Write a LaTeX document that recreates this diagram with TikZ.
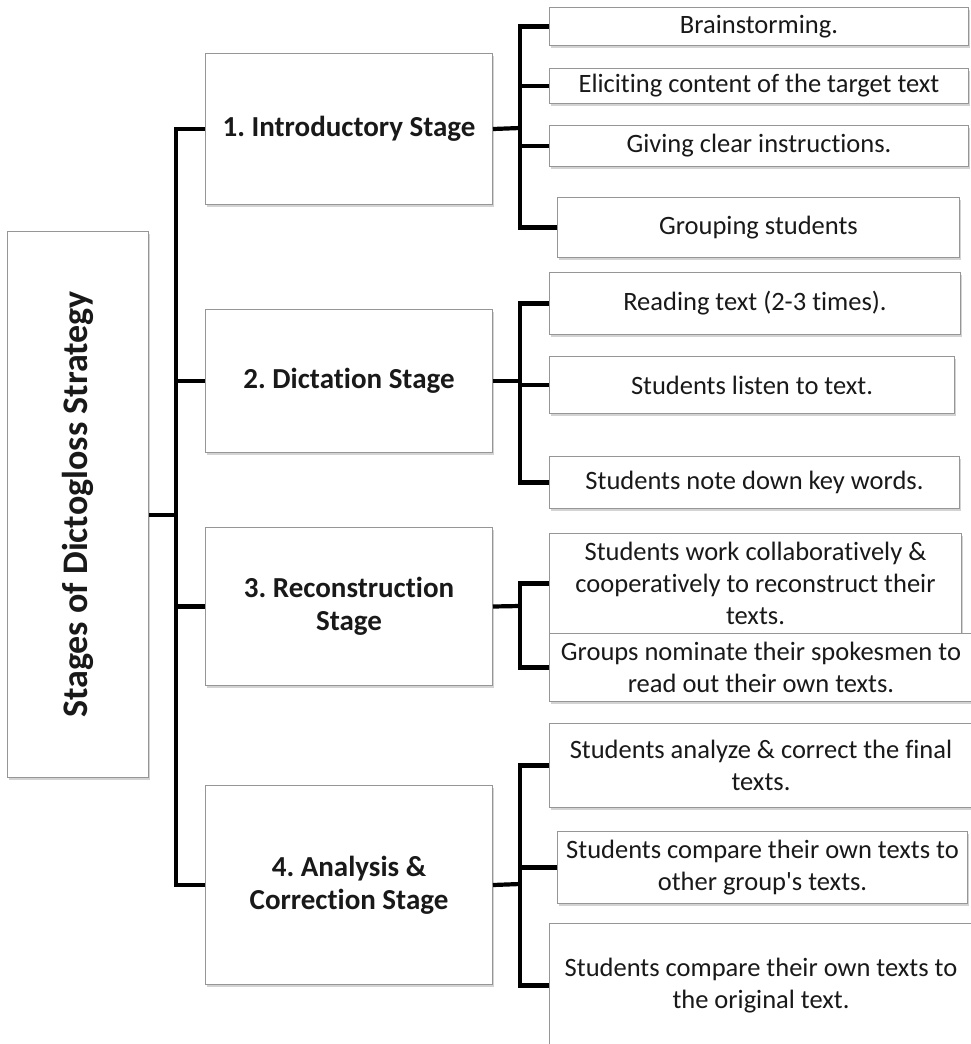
\documentclass[tikz,border=0pt]{standalone}
\usepackage{fontspec}
\setmainfont[Ligatures={CommonOff,TeXOff}]{Carlito}
\usepackage{tikz}
\usetikzlibrary{shadows, calc}
\definecolor{boxline}{RGB}{150, 150, 150}
\definecolor{textdark}{RGB}{25, 25, 25}
\frenchspacing

\begin{document}
\begin{tikzpicture}[
    x=1pt, y=-1pt,
    rootBox/.style={draw=boxline, fill=white, line width=1pt, anchor=north west, inner sep=0pt, text=textdark,
        font=\fontsize{36}{40}\selectfont\bfseries, drop shadow={shadow xshift=1.5pt, shadow yshift=-2pt, opacity=0.35}},
    stageBox/.style={draw=boxline, fill=white, line width=1pt, anchor=north west, inner sep=0pt, align=center, text=textdark,
        font=\fontsize{29}{33}\selectfont\bfseries, drop shadow={shadow xshift=1.5pt, shadow yshift=-2pt, opacity=0.35}},
    leafBox/.style={draw=boxline, fill=white, line width=1pt, anchor=north west, inner sep=0pt, align=center, text=textdark,
        font=\fontsize{26.5}{32}\selectfont, drop shadow={shadow xshift=1.5pt, shadow yshift=-2pt, opacity=0.35}},
    link/.style={draw=black, line width=4.2pt},
    spine/.style={link, line cap=rect}
]
\useasboundingbox (0,0) rectangle (970,1044);

% Root
\node[rootBox, minimum width=141, minimum height=546] (root) at (7,231) {\rotatebox{90}{Stages of Dictogloss Strategy}};

% Stages
\node[stageBox, minimum width=287, minimum height=151] (introStage) at (205,53) {1. Introductory Stage};
\node[stageBox, minimum width=287, minimum height=143] (dictStage) at (205,309) {2. Dictation Stage};
\node[stageBox, minimum width=287, minimum height=158] (reconStage) at (205,527) {3. Reconstruction\\Stage};
\node[stageBox, minimum width=287, minimum height=199] (analysisStage) at (205,785) {4. Analysis \&\\Correction Stage};

% Introductory leaves
\node[leafBox, minimum width=419, minimum height=38] (brainstorm) at (549,7) {Brainstorming.};
\node[leafBox, minimum width=419, minimum height=35] (eliciting) at (549,68) {Eliciting content of the target text};
\node[leafBox, minimum width=419, minimum height=41] (instructions) at (549,125) {Giving clear instructions.};
\node[leafBox, minimum width=402, minimum height=60] (grouping) at (557,197) {Grouping students};

% Dictation leaves
\node[leafBox, minimum width=411, minimum height=62] (reading) at (549,272) {Reading text (2-3 times).};
\node[leafBox, minimum width=405, minimum height=57] (listen) at (549,356) {Students listen to text.};
\node[leafBox, minimum width=410, minimum height=52] (noteDown) at (549,456) {Students note down key words.};

% Reconstruction leaves
\node[leafBox, minimum width=412, minimum height=100] (collab) at (549,533) {Students work collaboratively \&\\cooperatively to reconstruct their\\texts.};
\node[leafBox, minimum width=423, minimum height=68] (spokesmen) at (549,633) {Groups nominate their spokesmen to\\read out their own texts.};

% Analysis leaves
\node[leafBox, minimum width=423, minimum height=84] (analyze) at (549,723) {Students analyze \& correct the final\\texts.};
\node[leafBox, minimum width=410, minimum height=72] (compareGroup) at (557,831) {Students compare their own texts to\\other group's texts.};
\node[leafBox, minimum width=423, minimum height=124] (compareOrig) at (549,923) {Students compare their own texts to\\the original text.};

% Main spine
\coordinate (rootJ) at (176,515);
\draw[link] (rootJ -| root.east) -- (rootJ);
\draw[spine] (rootJ |- introStage.west) -- (rootJ |- analysisStage.west);
\draw[link] (rootJ |- introStage.west) -- (introStage.west);
\draw[link] (rootJ |- dictStage.west) -- (dictStage.west);
\draw[link] (rootJ |- reconStage.west) -- (reconStage.west);
\draw[link] (rootJ |- analysisStage.west) -- (analysisStage.west);

% Introductory branch
\coordinate (introJ) at (520,128);
\draw[link] (introStage.east) -- (introJ);
\draw[spine] (introJ |- brainstorm.west) -- (introJ |- grouping.west);
\draw[link] (introJ |- brainstorm.west) -- (brainstorm.west);
\draw[link] (introJ |- eliciting.west) -- (eliciting.west);
\draw[link] (introJ |- instructions.west) -- (instructions.west);
\draw[link] (introJ |- grouping.west) -- (grouping.west);

% Dictation branch
\coordinate (dictJ) at (520,381);
\draw[link] (dictStage.east) -- (dictJ);
\draw[spine] (dictJ |- reading.west) -- (dictJ |- noteDown.west);
\draw[link] (dictJ |- reading.west) -- (reading.west);
\draw[link] (dictJ |- listen.west) -- (listen.west);
\draw[link] (dictJ |- noteDown.west) -- (noteDown.west);

% Reconstruction branch
\coordinate (reconJ) at (520,606);
\draw[link] (reconStage.east) -- (reconJ);
\draw[spine] (reconJ |- collab.west) -- (reconJ |- spokesmen.west);
\draw[link] (reconJ |- collab.west) -- (collab.west);
\draw[link] (reconJ |- spokesmen.west) -- (spokesmen.west);

% Analysis branch
\coordinate (analysisJ) at (520,884);
\draw[link] (analysisStage.east) -- (analysisJ);
\draw[spine] (analysisJ |- analyze.west) -- (analysisJ |- compareOrig.west);
\draw[link] (analysisJ |- analyze.west) -- (analyze.west);
\draw[link] (analysisJ |- compareGroup.west) -- (compareGroup.west);
\draw[link] (analysisJ |- compareOrig.west) -- (compareOrig.west);

\end{tikzpicture}
\end{document}
